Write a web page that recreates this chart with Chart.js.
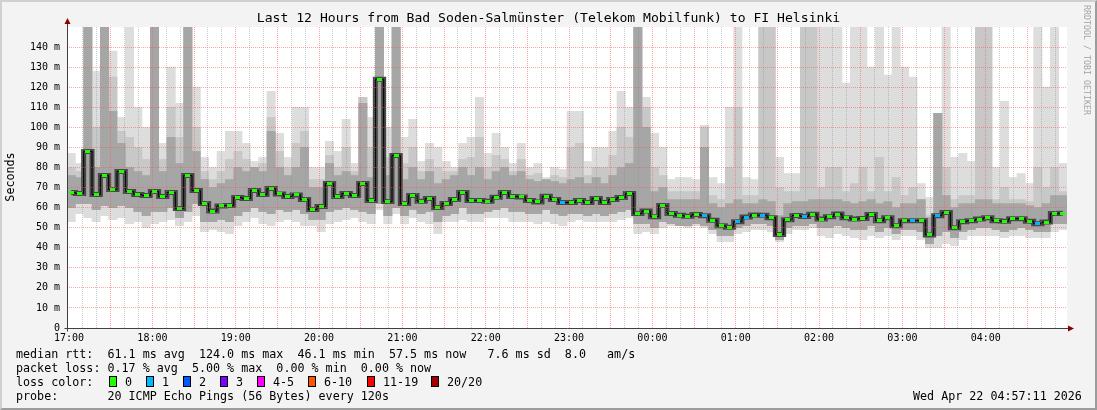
<!DOCTYPE html>
<html>
<head>
<meta charset="utf-8">
<script src="https://cdn.jsdelivr.net/npm/chart.js@4.4.1/dist/chart.umd.min.js"></script>
<style>
  html, body { margin: 0; padding: 0; background: #f3f3f3; }
  #wrap { position: relative; width: 1097px; height: 410px; overflow: hidden;
          font-family: "DejaVu Sans Mono", monospace; color: #000; }
  #c { position: absolute; left: 0; top: 0; }
  #frame { position: absolute; left: 0; top: 0; width: 1097px; height: 410px; box-sizing: border-box;
           border-top: 2px solid #d0d0d0; border-left: 2px solid #d0d0d0;
           border-right: 2px solid #9c9c9c; border-bottom: 2px solid #9c9c9c; pointer-events: none; }
  .t { position: absolute; white-space: pre; font-size: 11.7px; line-height: 14px; }
  #title { position: absolute; left: 0; width: 1097px; top: 10px; text-align: center;
           font-size: 13.1px; line-height: 16px; white-space: pre; }
  #ylab { position: absolute; left: -22px; top: 170px; width: 64px; text-align: center;
          transform: rotate(-90deg); font-size: 11.7px; line-height: 14px; }
  #brand { position: absolute; left: 1032px; top: 55px; width: 110px; text-align: center;
           transform: rotate(90deg); font-size: 8.3px; line-height: 10px; color: #a4a4a4; white-space: pre; }
  .box { position: absolute; top: 376px; width: 8px; height: 11px; box-sizing: border-box; border: 1px solid #000; }
</style>
</head>
<body>
<div id="wrap">
  <canvas id="c" width="1097" height="410"></canvas>
  <div id="title">Last 12 Hours from Bad Soden-Salmünster (Telekom Mobilfunk) to FI Helsinki</div>
  <div id="ylab">Seconds</div>
  <div id="brand">RRDTOOL / TOBI OETIKER</div>
  <div class="t" style="left:16px; top:347px">median rtt:  61.1 ms avg  124.0 ms max  46.1 ms min  57.5 ms now   7.6 ms sd  8.0   am/s</div>
  <div class="t" style="left:16px; top:361px">packet loss: 0.17 % avg  5.00 % max  0.00 % min  0.00 % now</div>
  <div class="t" style="left:16px; top:375px">loss color:</div>
  <div class="t" style="left:16px; top:389px">probe:       20 ICMP Echo Pings (56 Bytes) every 120s</div>
  <div class="t" style="left:913px; top:389px">Wed Apr 22 04:57:11 2026</div>
  <div id="legend"></div>
  <div id="frame"></div>
</div>
<script>
// 12 hours, one value every 6 minutes, first bin centred on 17:01:30
const startMinute = -1.5;
const stepMinutes = 6;
const hourLabels = ['17:00','18:00','19:00','20:00','21:00','22:00','23:00','00:00','01:00','02:00','03:00','04:00'];

// median rtt (ms)
const median = [
  67.5, 67, 88, 66.5, 76, 69, 78, 68, 66.5, 66,
  68, 65.5, 67.5, 59.5, 76, 68.5, 62, 58.3, 60.8, 61,
  65, 64.5, 68.5, 66.5, 69.5, 66.8, 65.5, 66.3, 64, 59,
  60.5, 72, 65.5, 67, 66, 72, 63.5, 124, 63, 86,
  62, 66, 63.2, 64.5, 60, 62, 64, 67.5, 63.5, 63.5,
  63.2, 65.2, 67.5, 65.5, 65.3, 63.5, 62.8, 65.6, 64, 62.5,
  62.5, 63.5, 62.5, 64.5, 62.5, 64, 65, 67, 57, 58.3,
  55.5, 61, 57, 56.2, 55.7, 56.6, 56, 53.7, 51, 50.2,
  53, 55.3, 56.3, 56.2, 55, 46.6, 54, 56.1, 55.6, 56.7,
  54.3, 55.4, 56.8, 55, 54.3, 54.6, 56.5, 53.5, 54.9, 51,
  53.5, 53.4, 53.5, 46.4, 56, 57.5, 50, 53, 53.5, 54.3,
  55, 53.5, 53.2, 54.5, 54.5, 53.2, 52, 52.8, 57, 57.2
];

// smoke: highest and lowest ping of each bin
const smokeHi = [
  87, 82, 150, 128, 150, 138, 105, 150, 110, 100,
  150, 92, 130, 112, 150, 120, 85, 80, 88, 98,
  98, 92, 83, 85, 118, 97, 85, 110, 110, 80,
  80, 93, 88, 104, 82, 115, 105, 150, 100, 150,
  95, 104, 83, 92, 90, 83, 80, 92, 95, 115,
  87, 97, 90, 82, 92, 80, 82, 75, 80, 79,
  108, 108, 83, 90, 90, 98, 118, 110, 150, 115,
  97, 90, 74, 75, 75, 74, 101, 75, 72, 110,
  150, 75, 74, 150, 150, 85, 77, 77, 150, 150,
  150, 150, 150, 122, 150, 150, 130, 150, 126, 150,
  130, 125, 72, 65, 107, 150, 85, 87, 83, 150,
  150, 80, 113, 75, 77, 72, 150, 120, 150, 82
];
const smokeLo = [
  53, 57, 55, 53, 56, 54, 55, 52, 53, 50,
  52, 53, 54, 51, 53, 56, 48, 49, 48, 47,
  51, 53, 55, 52, 51, 53, 54, 53, 51, 51,
  48, 52, 53, 54, 55, 53, 52, 59, 52, 57,
  52, 55, 53, 52, 47, 53, 53, 54, 53, 53,
  55, 55, 55, 53, 53, 53, 52, 53, 52, 51,
  53, 54, 53, 53, 53, 53, 54, 55, 47, 48,
  47, 50, 51, 52, 50, 51, 50, 47, 43, 43,
  47, 48, 49, 49, 48, 43, 47, 49, 49, 50,
  46, 45, 47, 46, 45, 44, 46, 45, 46, 44,
  46, 46, 44, 40, 40, 42, 41, 44, 46, 46,
  46, 46, 45, 46, 46, 45, 45, 45, 48, 49
];
// smoke: upper pings below the very highest one
const smokeUpperHi = [
  80, 78, 150, 100, 150, 125, 98, 95, 90, 84,
  150, 84, 110, 95, 150, 100, 78, 74, 78, 84,
  88, 84, 80, 82, 105, 88, 80, 92, 98, 74,
  74, 86, 80, 90, 78, 115, 90, 150, 85, 150,
  82, 90, 78, 84, 80, 78, 78, 84, 85, 95,
  80, 86, 84, 78, 84, 76, 77, 72, 76, 75,
  90, 92, 76, 80, 80, 86, 100, 95, 150, 110,
  80, 76, 68, 68, 68, 68, 100, 66, 64, 80,
  110, 66, 66, 150, 150, 70, 68, 68, 150, 150,
  70, 80, 80, 68, 72, 80, 68, 85, 68, 75,
  66, 70, 64, 56, 107, 80, 64, 66, 66, 150,
  150, 64, 70, 64, 64, 63, 80, 70, 80, 68
];
// smoke: denser middle part of the pings
const smokeMidHi = [
  76, 75, 150, 80, 150, 108, 92, 80, 78, 76,
  150, 78, 95, 82, 150, 88, 74, 70, 72, 74,
  80, 78, 80, 78, 98, 80, 76, 80, 90, 70,
  70, 82, 76, 78, 76, 112, 75, 150, 76, 150,
  74, 80, 74, 78, 72, 74, 76, 80, 76, 80,
  74, 78, 80, 76, 78, 74, 73, 74, 73, 72,
  74, 75, 72, 75, 72, 76, 80, 82, 150, 100,
  68, 70, 64, 64, 64, 64, 90, 62, 60, 62,
  64, 62, 62, 64, 63, 56, 62, 63, 63, 64,
  64, 64, 64, 63, 62, 63, 64, 62, 63, 60,
  62, 62, 64, 55, 107, 66, 60, 62, 62, 64,
  64, 62, 62, 62, 62, 61, 60, 62, 66, 66
];
const smokeMidLo = [
  60, 62, 62, 59, 61, 60, 61, 60, 58, 56,
  58, 58, 60, 55, 58, 62, 53, 53, 54, 53,
  56, 58, 60, 58, 57, 59, 58, 59, 57, 54,
  54, 58, 59, 60, 59, 58, 57, 62, 56, 60,
  56, 59, 57, 58, 53, 56, 57, 60, 57, 57,
  58, 59, 60, 58, 58, 57, 57, 59, 57, 56,
  57, 57, 56, 57, 56, 57, 58, 59, 52, 52,
  50, 53, 52, 51, 51, 52, 51, 49, 46, 46,
  50, 51, 52, 52, 51, 44, 50, 51, 51, 52,
  50, 50, 51, 50, 49, 49, 51, 48, 50, 47,
  49, 49, 48, 42, 46, 48, 45, 48, 49, 50,
  50, 49, 48, 49, 50, 49, 48, 48, 52, 52
];

// bins where one of the 20 pings was lost
const lossBins = [59, 76, 80, 81, 83, 88, 101, 104, 116];

const legendLabels = ['0', '1', '2', '3', '4-5', '6-10', '11-19', '20/20'];
const legendColors = ['#20ff00', '#00b8ff', '#0059ff', '#7e00ff', '#ff00ff', '#ff5500', '#ff0000', '#a10000'];

// loss colour legend
const boxX = [109, 146, 183, 220, 257, 308, 367, 431];
const legend = document.getElementById('legend');
legendLabels.forEach((lab, i) => {
  const b = document.createElement('div');
  b.className = 'box';
  b.style.left = boxX[i] + 'px';
  b.style.background = legendColors[i];
  legend.appendChild(b);
  const s = document.createElement('div');
  s.className = 't';
  s.style.left = (boxX[i] + 16) + 'px';
  s.style.top = '375px';
  s.textContent = lab;
  legend.appendChild(s);
});

function dashImg(color) {
  const cv = document.createElement('canvas');
  cv.width = 5; cv.height = 3;
  const g = cv.getContext('2d');
  g.fillStyle = color;
  g.fillRect(0, 0, 5, 3);
  return cv;
}
const dashes = [dashImg(legendColors[0]), dashImg(legendColors[1])];

const xs = median.map((_, i) => startMinute + stepMinutes / 2 + stepMinutes * i);
const pts = arr => arr.map((v, i) => ({ x: xs[i], y: v }));
const ranges = (lo, hi) => lo.map((v, i) => ({ x: xs[i], y: [v, hi[i]] }));
const smokeBar = (order, lo, hi, color) => ({
  type: 'bar', order, data: ranges(lo, hi), backgroundColor: color,
  barPercentage: 1, categoryPercentage: 1, grouped: false
});

const monoTick = { family: 'DejaVu Sans Mono', size: 10 };
const minorCol = 'rgba(140,140,140,0.45)';
const majorCol = 'rgba(255,80,80,0.5)';

const framePlugin = {
  id: 'framePlugin',
  beforeDraw(chart) {
    const { ctx, chartArea: a } = chart;
    ctx.save();
    ctx.fillStyle = '#ffffff';
    ctx.fillRect(a.left, a.top, a.right - a.left, a.bottom - a.top);
    ctx.restore();
  },
  afterDraw(chart) {
    const { ctx, chartArea: a } = chart;
    const l = Math.round(a.left) + 0.5, b = Math.round(a.bottom) + 0.5;
    ctx.save();
    ctx.strokeStyle = '#404040';
    ctx.lineWidth = 1;
    ctx.beginPath();
    ctx.moveTo(l, b + 3); ctx.lineTo(l, a.top - 5);
    ctx.moveTo(l - 3, b); ctx.lineTo(a.right + 4, b);
    ctx.stroke();
    ctx.fillStyle = '#8b0000';
    ctx.beginPath();
    ctx.moveTo(l, a.top - 9); ctx.lineTo(l - 3, a.top - 3); ctx.lineTo(l + 3, a.top - 3);
    ctx.closePath(); ctx.fill();
    ctx.beginPath();
    ctx.moveTo(a.right + 7, b); ctx.lineTo(a.right + 1, b - 3); ctx.lineTo(a.right + 1, b + 3);
    ctx.closePath(); ctx.fill();
    ctx.restore();
  }
};

new Chart(document.getElementById('c'), {
  data: {
    datasets: [
      {
        type: 'line', order: 0, data: pts(median), showLine: false,
        pointRadius: 2, pointHoverRadius: 2,
        pointStyle: ctx => dashes[lossBins.includes(ctx.dataIndex) ? 1 : 0]
      },
      {
        type: 'line', order: 1, data: pts(median), stepped: 'middle',
        borderColor: '#000000', borderWidth: 1, pointRadius: 0
      },
      {
        type: 'line', order: 2, data: pts(median), stepped: 'middle',
        borderColor: '#484848', borderWidth: 5, pointRadius: 0
      },
      smokeBar(3, smokeMidLo, smokeMidHi, '#a6a6a6'),
      smokeBar(4, smokeMidLo, smokeUpperHi, '#c8c8c8'),
      smokeBar(5, smokeLo, smokeHi, '#dddddd')
    ]
  },
  options: {
    responsive: false,
    animation: false,
    devicePixelRatio: 1,
    layout: { padding: { top: 27, right: 30, left: 0, bottom: 0 } },
    plugins: { legend: { display: false }, tooltip: { enabled: false } },
    scales: {
      x: {
        type: 'linear', min: -1.5, max: 718.5, offset: false,
        afterFit(s) { s.height = 82; },
        afterBuildTicks(s) {
          const t = [];
          for (let m = 0; m <= 710; m += 10) t.push({ value: m });
          s.ticks = t;
        },
        ticks: {
          autoSkip: false, maxRotation: 0, padding: 4, color: '#000', font: monoTick,
          callback: v => (v % 60 === 0 ? hourLabels[v / 60] : '')
        },
        grid: {
          drawTicks: false, z: 1, offset: false,
          color: c => (c.tick && c.tick.value === 0 ? 'rgba(0,0,0,0)' : (c.tick && c.tick.value % 30 === 0 ? majorCol : minorCol))
        },
        border: { display: false, dash: [1, 1] }
      },
      y: {
        min: 0, max: 150,
        afterFit(s) { s.width = 67; },
        afterBuildTicks(s) {
          const t = [];
          for (let v = 0; v <= 150; v += 5) t.push({ value: v });
          s.ticks = t;
        },
        ticks: {
          padding: 7, color: '#000', font: monoTick,
          callback: v => (v === 0 ? '0' : (v % 10 === 0 && v < 150 ? v + ' m' : ''))
        },
        grid: {
          drawTicks: false, z: 1,
          color: c => {
            const v = c.tick ? c.tick.value : 0;
            if (v === 0 || v === 150) return 'rgba(0,0,0,0)';
            return v % 10 === 0 ? majorCol : minorCol;
          }
        },
        border: { display: false, dash: [1, 1] }
      }
    }
  },
  plugins: [framePlugin]
});
</script>
</body>
</html>
